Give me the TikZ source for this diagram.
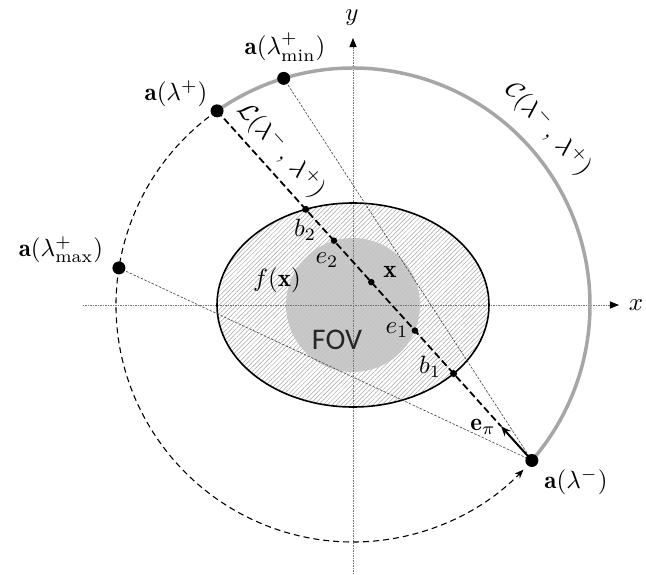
\documentclass[tikz,border=0pt]{standalone}
\usepackage{fontspec}
\newfontfamily\fovfont{Carlito}
\usetikzlibrary{calc,arrows.meta,patterns.meta}
\definecolor{arcgray}{HTML}{A6A6A6}
\definecolor{fovgray}{HTML}{C4C4C4}
\begin{document}
\begin{tikzpicture}[x=1pt,y=1pt,
  lbl/.style={scale=2.5, inner sep=0pt},
  bigdot/.style={circle,fill=black,inner sep=0pt,minimum size=13pt},
  smalldot/.style={circle,fill=black,inner sep=0pt,minimum size=7pt},
  axisline/.style={black!55, line width=0.8pt, dash pattern=on 1.5pt off 1pt,
     -{Triangle[length=9pt,width=7pt,black]}},
  thindash/.style={black!75, line width=0.6pt, dash pattern=on 2.5pt off 1.5pt},
  orbit/.style={black, line width=1.1pt, dash pattern=on 6pt off 4pt,
     -{Stealth[length=9pt,width=7pt]}},
  traj/.style={arcgray, line width=3.5pt},
  chord/.style={black, line width=1.8pt, dash pattern=on 7pt off 3.5pt},
  vec/.style={black, line width=2pt, -{Stealth[length=10pt,width=8pt]}}
]
\useasboundingbox (-353,-269) rectangle (293,305);
\coordinate (O) at (0,0);
\coordinate (Ap) at (125:237);
\coordinate (Amin) at (107:237);
\coordinate (Amax) at (171:237);
\coordinate (Am) at (-41:237);
\coordinate (B2) at ($(Ap)!0.2816!(Am)$);
\coordinate (B1) at ($(Ap)!0.7514!(Am)$);
\coordinate (E2) at ($(Ap)!0.3714!(Am)$);
\coordinate (E1) at ($(Ap)!0.6284!(Am)$);
\coordinate (X) at ($(Ap)!0.49!(Am)$);
\coordinate (Ept) at ($(Ap)!0.902!(Am)$);
\coordinate (xs) at (-270,0);
\coordinate (xe) at (266,0);
\coordinate (ys) at (0,-269);
\coordinate (ye) at (0,267);

% object support (hatched ellipse)
\path[pattern={Lines[angle=45,distance=3.2pt,line width=0.5pt]}, pattern color=black!35]
  (O) ellipse [x radius=136pt, y radius=102pt];
% FOV disk
\fill[fovgray, opacity=0.92] (O) circle [radius=67pt];
% axes
\draw[axisline] (xs) -- (xe);
\draw[axisline] (ys) -- (ye);
% ellipse outline
\draw[black, line width=1.6pt] (O) ellipse [x radius=136pt, y radius=102pt];
% thin lines
\draw[thindash] (Amin) -- (Am);
\draw[thindash] (Amax) -- (Am);
% source trajectory
\draw[traj] (Ap) arc [start angle=125, end angle=-41, radius=237pt];
\draw[orbit] (Ap) arc [start angle=125, end angle=316, radius=237pt];
% chord
\draw[chord] (Ap) -- (Ept);
\draw[vec] (Am) -- (Ept);

% dots
\node[bigdot] (ap) at (Ap) {};
\node[bigdot] (amin) at (Amin) {};
\node[bigdot] (amax) at (Amax) {};
\node[bigdot] (am) at (Am) {};
\node[smalldot] (b2) at (B2) {};
\node[smalldot] (b1) at (B1) {};
\node[smalldot, minimum size=6.5pt] (e2) at (E2) {};
\node[smalldot, minimum size=6.5pt] (e1) at (E1) {};
\node[smalldot, minimum size=6.5pt] (xp) at (X) {};

% labels
\node[lbl] (lap) at (-177,211) {$\mathbf{a}(\lambda^{+})$};
\node[lbl] (lamin) at (-68,258) {$\mathbf{a}(\lambda^{+}_{\min})$};
\node[lbl] (lamax) at (-292,55) {$\mathbf{a}(\lambda^{+}_{\max})$};
\node[lbl] (lam) at (223,-177) {$\mathbf{a}(\lambda^{-})$};
\node[lbl] (lep) at (130,-122) {$\mathbf{e}_{\pi}$};
\node[lbl, rotate=-48] (lL) at (-72,155) {$\mathcal{L}(\lambda^{-}\,,\,\lambda^{+})$};
\node[lbl, rotate=-48] (lC) at (195,176) {$\mathcal{C}(\lambda^{-}\,,\,\lambda^{+})$};
\node[lbl] (lf) at (-76,25) {$f(\mathbf{x})$};
\node[font=\fovfont\fontsize{30}{32}\selectfont, text=black!85, inner sep=0pt] (fov) at (-16,-35) {FOV};
\node[lbl] (lx) at (37,33) {$\mathbf{x}$};
\node[lbl] (lb2) at (-48,75) {$b_2$};
\node[lbl] (le2) at (-26,45) {$e_2$};
\node[lbl] (le1) at (44,-25) {$e_1$};
\node[lbl] (lb1) at (77,-62) {$b_1$};
\node[lbl] (ylab) at (-1,287) {$y$};
\node[lbl] (xlab) at (283,0) {$x$};
\end{tikzpicture}
\end{document}
